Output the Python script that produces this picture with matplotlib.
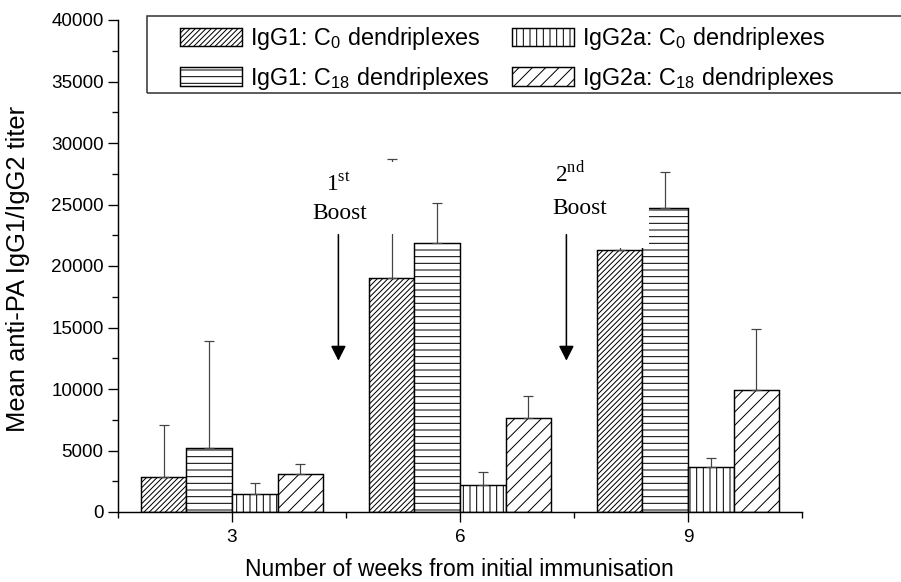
import matplotlib
matplotlib.use("Agg")
import matplotlib.pyplot as plt
from matplotlib.patches import Rectangle
from matplotlib.ticker import MultipleLocator
import numpy as np

# ---- data ----
weeks = [3, 6, 9]
series_labels = [
    r"IgG1: C$_{\mathsf{0}}$ dendriplexes",
    r"IgG1: C$_{\mathsf{18}}$ dendriplexes",
    r"IgG2a: C$_{\mathsf{0}}$ dendriplexes",
    r"IgG2a: C$_{\mathsf{18}}$ dendriplexes",
]
igg1_c0 = [2870, 19000, 21300]
igg1_c0_err = [4200, 9700, 3000]
igg1_c18 = [5180, 21900, 24750]
igg1_c18_err = [8750, 3200, 2900]
igg2a_c0 = [1440, 2200, 3680]
igg2a_c0_err = [890, 1030, 690]
igg2a_c18 = [3090, 7620, 9950]
igg2a_c18_err = [810, 1830, 4950]

means = [igg1_c0, igg1_c18, igg2a_c0, igg2a_c18]
errs = [igg1_c0_err, igg1_c18_err, igg2a_c0_err, igg2a_c18_err]
hatches = ["/////", "--", "||", "//"]

plt.rcParams["font.family"] = ["Liberation Sans", "DejaVu Sans"]
plt.rcParams["mathtext.fontset"] = "custom"
plt.rcParams["mathtext.rm"] = "Liberation Serif"
plt.rcParams["mathtext.sf"] = "Liberation Sans"
plt.rcParams["hatch.linewidth"] = 0.9

DPI = 80
fig = plt.figure(figsize=(901 / DPI, 582 / DPI), dpi=DPI)
ax = fig.add_axes([118 / 901, 70 / 582, (802 - 118) / 901, (512 - 20) / 582])

width = 0.6
x = np.array(weeks, dtype=float)
handles = []
for i, (m, e, h) in enumerate(zip(means, errs, hatches)):
    left = x - 2 * width + i * width
    b = ax.bar(left, m, width=width, align="edge", color="white",
               edgecolor="black", linewidth=1.3, hatch=h, zorder=2,
               label=series_labels[i])
    handles.append(b)
    ax.errorbar(left + width / 2, m, yerr=[np.zeros(len(m)), e], fmt="none",
                ecolor="#444444", elinewidth=1.1, capsize=4.5, capthick=1.1,
                zorder=3)

# white boxes behind the boost annotations (they hide parts of the bars)
ax.add_patch(Rectangle((3.7, 22600), 1.45, 5850, facecolor="white",
                       edgecolor="none", zorder=4))
ax.add_patch(Rectangle((6.3, 21450), 2.19, 8000, facecolor="white",
                       edgecolor="none", zorder=4))

serif = ["Liberation Serif", "DejaVu Serif"]
boosts = [
    # arrow x, ordinal x, ordinal y, "Boost" x, "Boost" y, ordinal text
    (4.4, 4.4, 26600, 4.42, 24300, r"1$^{\mathrm{st}}$"),
    (7.4, 7.45, 27500, 7.58, 24650, r"2$^{\mathrm{nd}}$"),
]
for xa, xo, yo, xb, yb, ordinal in boosts:
    ax.text(xo, yo, ordinal, family=serif, fontsize=21, ha="center",
            va="center", zorder=5)
    ax.text(xb, yb, "Boost", family=serif, fontsize=21, ha="center",
            va="center", zorder=5)
    ax.annotate("", xy=(xa, 12300), xytext=(xa, 22550),
                arrowprops=dict(arrowstyle="-|>,head_length=0.75,head_width=0.38",
                                color="black", lw=1.4, mutation_scale=15,
                                shrinkA=0, shrinkB=0),
                zorder=5)

ax.set_xlim(1.5, 10.5)
ax.set_ylim(0, 40000)
ax.set_xticks(weeks)
ax.set_xticks([1.5, 4.5, 7.5, 10.5], minor=True)
ax.yaxis.set_major_locator(MultipleLocator(5000))
ax.yaxis.set_minor_locator(MultipleLocator(2500))
ax.tick_params(axis="both", which="major", direction="out", length=9,
               width=1.2, labelsize=17, color="black")
ax.tick_params(axis="x", which="major", pad=6)
ax.tick_params(axis="y", which="major", pad=4)
ax.tick_params(axis="both", which="minor", direction="out", length=5,
               width=1.2)
for s in ["top", "right"]:
    ax.spines[s].set_visible(False)
for s in ["left", "bottom"]:
    ax.spines[s].set_linewidth(1.3)

ax.set_xlabel("Number of weeks from initial immunisation", fontsize=20.5,
              va="top")
ax.xaxis.set_label_coords(0.4985, -0.0935)
ax.set_ylabel("Mean anti-PA IgG1/IgG2 titer", fontsize=23)
ax.yaxis.set_label_coords(-0.129, 0.494)

# legend with a frame that runs off the right edge
fig.patches.append(Rectangle((147 / 901, 1 - 93 / 582), 0.86, (93 - 16) / 582,
                             transform=fig.transFigure, facecolor="none",
                             edgecolor="#333333", linewidth=1.4))
fig.legend(handles=handles, loc="upper left",
           bbox_to_anchor=(180 / 901, 1 - 25 / 582), ncol=2, frameon=False,
           fontsize=21, borderpad=0, borderaxespad=0, handlelength=2.66,
           handleheight=0.86, handletextpad=0.34, columnspacing=0.95,
           labelspacing=0.55)

fig.savefig("out.png", dpi=DPI)
